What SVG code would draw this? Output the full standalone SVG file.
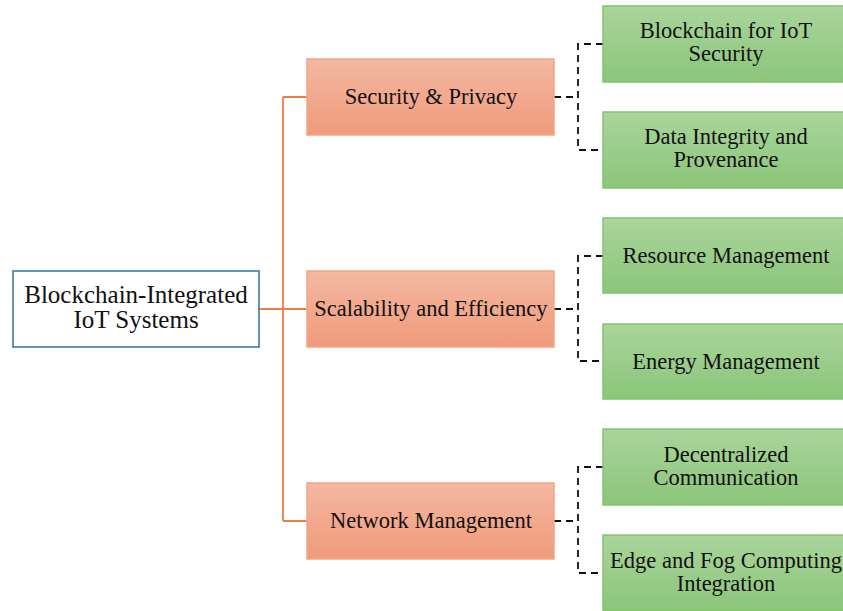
<svg xmlns="http://www.w3.org/2000/svg" width="843" height="611" viewBox="0 0 843 611">
<defs>
<linearGradient id="gOr" x1="0" y1="0" x2="0" y2="1">
<stop offset="0" stop-color="#F4B8A2"/>
<stop offset="1" stop-color="#F09A7B"/>
</linearGradient>
<linearGradient id="gGr" x1="0" y1="0" x2="0" y2="1">
<stop offset="0" stop-color="#AAD59C"/>
<stop offset="1" stop-color="#8BC57A"/>
</linearGradient>
<style>
text{font-family:"Liberation Serif","Times New Roman",serif;font-size:22.5px;fill:#111;text-anchor:middle}
text.big{font-size:25px}
.root{fill:#fff;stroke:#2F6F9F;stroke-width:1.5}
.mid{fill:url(#gOr);stroke:#F3A583;stroke-width:1.5}
.leaf{fill:url(#gGr);stroke:#84C46D;stroke-width:1.5}
.solid{fill:none;stroke:#EE7D45;stroke-width:1.8}
.dash{fill:none;stroke:#111;stroke-width:1.8;stroke-dasharray:7,5}
</style>
</defs>
<g id="connectors">
<path class="solid" d="M259 309H283M283 97V521M283 97H307M283 309H307M283 521H307"/>
<path class="dash" d="M554 97H578M603 44H578V150H603"/>
<path class="dash" d="M554 309H578M603 256H578V361H603"/>
<path class="dash" d="M554 521H578M603 467H578V573H603"/>
</g>
<g id="root">
<rect class="root" x="13" y="271" width="246" height="76"/>
<text class="big" x="136" y="303">Blockchain-Integrated</text>
<text class="big" x="136" y="328">IoT Systems</text>
</g>
<g id="security">
<rect class="mid" x="307" y="59" width="247" height="76"/>
<text x="431" y="104">Security &amp; Privacy</text>
</g>
<g id="scalability">
<rect class="mid" x="307" y="271" width="247" height="76"/>
<text x="431" y="316">Scalability and Efficiency</text>
</g>
<g id="network">
<rect class="mid" x="307" y="483" width="247" height="76"/>
<text x="431" y="528">Network Management</text>
</g>
<g id="leaf1">
<rect class="leaf" x="603" y="6" width="246" height="76"/>
<text x="726" y="38">Blockchain for IoT</text>
<text x="726" y="61">Security</text>
</g>
<g id="leaf2">
<rect class="leaf" x="603" y="112" width="246" height="76"/>
<text x="726" y="144">Data Integrity and</text>
<text x="726" y="167">Provenance</text>
</g>
<g id="leaf3">
<rect class="leaf" x="603" y="218" width="246" height="75"/>
<text x="726" y="263">Resource Management</text>
</g>
<g id="leaf4">
<rect class="leaf" x="603" y="324" width="246" height="75"/>
<text x="726" y="369">Energy Management</text>
</g>
<g id="leaf5">
<rect class="leaf" x="603" y="429" width="246" height="76"/>
<text x="726" y="462">Decentralized</text>
<text x="726" y="485">Communication</text>
</g>
<g id="leaf6">
<rect class="leaf" x="603" y="535" width="246" height="76"/>
<text x="726" y="568">Edge and Fog Computing</text>
<text x="726" y="591">Integration</text>
</g>
</svg>
